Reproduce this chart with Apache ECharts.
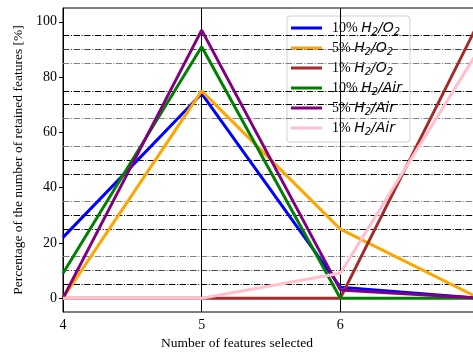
<!DOCTYPE html>
<html>
<head>
<meta charset="utf-8">
<script src="https://cdn.jsdelivr.net/npm/echarts@6/dist/echarts.min.js"></script>
<style>html,body{margin:0;padding:0;background:#fff}#c{width:473px;height:352px}</style>
</head>
<body>
<div id="c"></div>
<script>
// ---- data ----
const xValues = [4, 5, 6, 7];
const seriesNames = ['10% H2/O2', '5% H2/O2', '1% H2/O2', '10% H2/Air', '5% H2/Air', '1% H2/Air'];
const h2o2_10 = [22, 74, 4, 0];
const h2o2_5 = [0, 75, 25, 0];
const h2o2_1 = [0, 0, 0, 100];
const air_10 = [9, 91, 0, 0];
const air_5 = [0, 97, 3, 0];
const air_1 = [0, 0, 9, 90];
const hLines = [5, 10, 15, 25, 30, 35, 45, 50, 55, 65, 70, 75, 85, 90, 95];
const greyLines = [15, 35, 55, 65, 85];
const midGreyLines = [10, 90];
const vLines = [5, 6];
const xTitle = 'Number of features selected';
const yTitle = 'Percentage of the number of retained features [%]';

const colors = ['#0000ff', '#ffa500', '#a52a2a', '#008000', '#800080', '#ffc0cb'];
const values = [h2o2_10, h2o2_5, h2o2_1, air_10, air_5, air_1];

const serif = 'Liberation Serif';
const dash = [6.4, 1.6, 1, 1.6];

function legendFmt(name) {
  const parts = name.split(' ');
  const pct = parts[0];
  const gas = parts[1];
  const rest = gas.slice(2);
  let s = '{n|' + pct + ' }{m|H}{s|2}';
  if (rest === '/O2') s += '{m|/O}{s|2}';
  else s += '{m|' + rest + '}';
  return s;
}

const series = values.map((v, i) => ({
  name: seriesNames[i],
  type: 'line',
  data: xValues.map((x, j) => [x, v[j]]),
  showSymbol: false,
  symbol: 'none',
  lineStyle: { color: colors[i], width: 3 },
  itemStyle: { color: colors[i] },
  z: 10 + i
}));

series.unshift({
  name: 'refs',
  type: 'line',
  data: [],
  z: 1,
  silent: true,
  markLine: {
    silent: true,
    symbol: 'none',
    animation: false,
    label: { show: false },
    data: hLines.map(y => ({
      yAxis: y,
      lineStyle: {
        color: greyLines.includes(y) ? '#808080' : (midGreyLines.includes(y) ? '#444444' : '#000000'),
        width: 1, type: dash
      }
    })).concat(vLines.map(x => ({
      xAxis: x,
      lineStyle: { color: '#000000', width: 1, type: 'solid' }
    })))
  }
});

const chart = echarts.init(document.getElementById('c'), null, { renderer: 'canvas' });
chart.setOption({
  animation: false,
  backgroundColor: '#ffffff',
  grid: { left: 63, right: -6, top: 8, bottom: 40, containLabel: false, outerBoundsMode: 'none',
    show: true, borderColor: '#000', borderWidth: 1, backgroundColor: 'transparent' },
  xAxis: {
    type: 'value', min: 4, max: 7, interval: 1,
    name: xTitle, nameLocation: 'middle', nameGap: 24,
    nameTextStyle: { fontFamily: serif, fontSize: 13.5, color: '#000', padding: [0, 68, 0, 0] },
    axisLine: { show: true, lineStyle: { color: '#000', width: 1 } },
    axisTick: { show: true, length: 4, lineStyle: { color: '#000' } },
    axisLabel: { fontFamily: serif, fontSize: 14, color: '#000', margin: 6 },
    splitLine: { show: false }
  },
  yAxis: {
    type: 'value', min: -5, max: 105, minInterval: 20, maxInterval: 20,
    name: yTitle, nameLocation: 'middle', nameGap: 35,
    nameTextStyle: { fontFamily: serif, fontSize: 13.5, color: '#000' },
    axisLine: { show: true, lineStyle: { color: '#000', width: 1 } },
    axisTick: { show: true, length: 4, lineStyle: { color: '#000' } },
    axisLabel: { fontFamily: serif, fontSize: 14, color: '#000', margin: 6, showMinLabel: false, showMaxLabel: false,
      formatter: v => (v % 20 === 0 && v >= 0 && v <= 100) ? String(v) : '' },
    splitLine: { show: false }
  },
  legend: {
    data: seriesNames,
    orient: 'vertical',
    left: 287, top: 16,
    padding: [5, 8, 5, 4],
    itemGap: 4,
    itemWidth: 31, itemHeight: 3,
    icon: 'rect',
    backgroundColor: 'rgba(255,255,255,0.8)',
    borderColor: '#d0d0d0', borderWidth: 1, borderRadius: 3,
    formatter: legendFmt,
    textStyle: {
      padding: [0, 0, 0, 5],
      rich: {
        n: { fontFamily: serif, fontSize: 14, color: '#000', lineHeight: 18 },
        m: { fontFamily: 'DejaVu Sans', fontStyle: 'italic', fontSize: 14, color: '#000', lineHeight: 18 },
        s: { fontFamily: 'DejaVu Sans', fontStyle: 'italic', fontSize: 10, color: '#000', lineHeight: 10, verticalAlign: 'bottom' }
      }
    }
  },
  series: series
});
</script>
</body>
</html>
